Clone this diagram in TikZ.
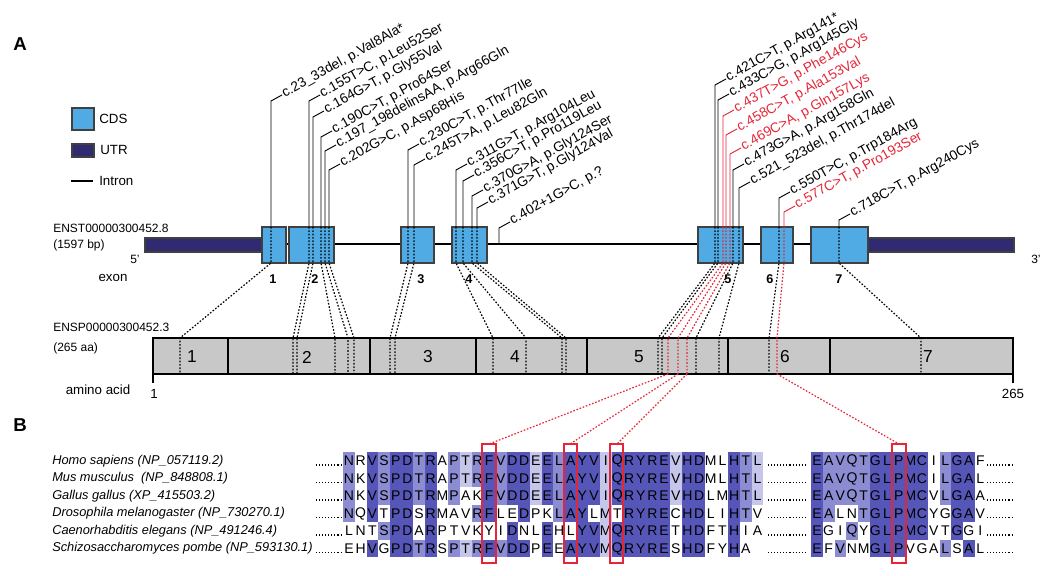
\documentclass[tikz,border=0pt]{standalone}
\usepackage{fontspec}
\setmainfont{Liberation Sans}
\usetikzlibrary{calc,positioning}

\definecolor{cdsblue}{RGB}{80,170,228}
\definecolor{utrnavy}{RGB}{48,42,112}
\definecolor{mutred}{RGB}{228,38,56}
\definecolor{protgray}{RGB}{200,200,200}
\definecolor{lvl1}{RGB}{198,198,234}
\definecolor{lvl2}{RGB}{140,140,210}
\definecolor{lvl3}{RGB}{86,86,184}

\tikzset{
  exonbox/.style={draw=black!75,fill=cdsblue,line width=0.8pt},
  utrbar/.style={draw=black!75,fill=utrnavy,line width=0.8pt},
  intron/.style={line width=1.6pt},
  leader/.style={line width=0.7pt},
  mapline/.style={line width=0.9pt,dash pattern=on 1.2pt off 1.3pt},
  mutlabel/.style={anchor=west,rotate=29,inner sep=0.6pt,font=\fontsize{10.3}{12}\selectfont},
  sidelabel/.style={anchor=west,inner sep=0pt,font=\fontsize{9}{11}\selectfont},
  plainlabel/.style={inner sep=0pt,font=\fontsize{10}{12}\selectfont},
  exonnum/.style={inner sep=0pt,font=\fontsize{9.5}{11}\selectfont\bfseries},
  domnum/.style={inner sep=0pt,font=\fontsize{13}{15}\selectfont},
  resid/.style={inner sep=0pt,font=\fontsize{10.5}{12}\selectfont},
  species/.style={anchor=west,inner sep=0pt,font=\fontsize{9.6}{12}\selectfont\itshape},
  seqdots/.style={line width=0.8pt,dash pattern=on 0.8pt off 1.5pt},
  redbox/.style={draw=mutred,line width=1.1pt},
  panel/.style={inner sep=0pt,font=\fontsize{14}{16}\selectfont\bfseries}
}

% one row of one alignment block: x of first column, y, name, residue/level list
\newcommand{\msarow}[4]{%
  \foreach \res/\lvl [count=\k from 0] in {#4}{
    \ifnum\lvl>0
      \fill[lvl\lvl] ({#1+11.67*\k-5.84},{#2-8.8}) rectangle ++(11.68,17.6);
    \fi
    \node[resid] (#3-\k) at ({#1+11.67*\k},#2) {\res};
  }}

\begin{document}
\begin{tikzpicture}[x=0.75pt,y=-0.75pt]
  \useasboundingbox (0,0) rectangle (1050,575);

  % Panel letters
  \node[panel] (panelA) at (20,44) {A};
  \node[panel] (panelB) at (20,425) {B};

  % Legend
  \draw[exonbox] (72,108) rectangle (94,130);
  \node[sidelabel,font=\fontsize{10}{12}\selectfont] (lgcds) at (99,119) {CDS};
  \draw[utrbar] (72,144) rectangle (94,157);
  \node[sidelabel,font=\fontsize{10}{12}\selectfont] (lgutr) at (100,150) {UTR};
  \draw[intron] (71,181) -- (93,181);
  \node[sidelabel,font=\fontsize{10}{12}\selectfont] (lgintron) at (99,181) {Intron};

  % Transcript
  \node[sidelabel] (enst) at (53,228) {ENST00000300452.8};
  \node[sidelabel] (bp) at (53,245) {(1597 bp)};
  \node[sidelabel] (five) at (130,259) {5'};
  \node[sidelabel] (three) at (1031,259) {3'};
  \node[plainlabel] (exonlab) at (113,278) {exon};
  \draw[intron] (262,244) -- (811,244);
  \draw[utrbar] (145,238) rectangle (262,252);
  \draw[utrbar] (868,238) rectangle (1014,252);
  \foreach \xa/\xb in {262/286, 289/334, 401/434, 452/487, 698/743, 761/793, 811/868}
    \draw[exonbox] (\xa,227) rectangle (\xb,263);
  \foreach \x/\n in {273/1, 315/2, 421/3, 469/4, 728/5, 770/6, 839/7}
    \node[exonnum] (exn\n) at (\x,279) {\n};

  % Protein
  \node[sidelabel] (ensp) at (53,327) {ENSP00000300452.3};
  \node[sidelabel] (aalen) at (53,348) {(265 aa)};
  \node[plainlabel] (aalab) at (98,390) {amino acid};
  \draw[fill=protgray,line width=0.8pt] (153,338) rectangle (1013,374);
  \draw[line width=1.6pt] (153,338) -- (153,383);
  \draw[line width=0.8pt] (1013,374) -- (1013,383);
  \foreach \x in {228,370,476,587,728,830}
    \draw[line width=0.8pt] (\x,338) -- (\x,374);
  \foreach \x/\n in {192/1,307/2,428/3,515/4,639/5,785/6,928/7}
    \node[domnum] (dom\n) at (\x,357) {\n};
  \node[plainlabel] (aafirst) at (154,394) {1};
  \node[plainlabel] (aalast) at (1013,394) {265};

  % Variants: exon x / leader top / residue x / colour / label
  \foreach \gx/\gy/\px/\mc/\txt [count=\i] in {
    271/101/180/black/{c.23\_33del, p.Val8Ala*},
    309/101/293/black/{c.155T>C, p.Leu52Ser},
    313/117/297/black/{c.164G>T, p.Gly55Val},
    321/137/335/black/{c.190C>T, p.Pro64Ser},
    325/151/348/black/{c.197\_198delinsAA, p.Arg66Gln},
    329/170/354/black/{c.202G>C, p.Asp68His},
    408/150/390/black/{c.230C>T, p.Thr77Ile},
    414/165/395/black/{c.245T>A, p.Leu82Gln},
    456/170/493/black/{c.311G>T, p.Arg104Leu},
    463/181/526/black/{c.356C>T, p.Pro119Leu},
    472/196/562/black/{c.370G>A, p.Gly124Ser},
    477/208/566/black/{c.371G>T, p.Gly124Val},
    715/85/658/black/{c.421C>T, p.Arg141*},
    718/100/662/black/{c.433C>G, p.Arg145Gly},
    723/116/668/mutred/{c.437T>G, p.Phe146Cys},
    726/135/678/mutred/{c.458C>T, p.Ala153Val},
    730/154/687/mutred/{c.469C>A, p.Gln157Lys},
    733/170/696/black/{c.473G>A, p.Arg158Gln},
    739/188/719/black/{c.521\_523del, p.Thr174del},
    779/198/769/black/{c.550T>C, p.Trp184Arg},
    784/212/777/mutred/{c.577C>T, p.Pro193Ser},
    839/220/921/black/{c.718C>T, p.Arg240Cys}}{
    \coordinate (top\i) at (\gx,\gy);
    \coordinate (exT\i) at (\gx,227);
    \coordinate (exB\i) at (\gx,263);
    \coordinate (aaT\i) at (\px,338);
    \coordinate (aaB\i) at (\px,374);
    \draw[leader,color=\mc] (exT\i) -- (top\i) -- ++(11,-6) node[mutlabel] (lab\i) {\txt};
    \draw[mapline,color=\mc] (exT\i) -- (exB\i) -- (aaT\i) -- (aaB\i);
  }

  % Splice variant
  \coordinate (spl) at (499,244);
  \draw[leader] (spl) -- (499,228) -- ++(11,-6) node[mutlabel] (labspl) {c.402+1G>C, p.?};

  % Alignment
  \foreach \y/\name [count=\r] in {461/{Homo sapiens (NP\_057119.2)},
      478.5/{Mus musculus\ \ (NP\_848808.1)},
      496/{Gallus gallus (XP\_415503.2)},
      513.5/{Drosophila melanogaster (NP\_730270.1)},
      531/{Caenorhabditis elegans (NP\_491246.4)},
      548.5/{Schizosaccharomyces pombe (NP\_593130.1)}}{
    \node[species] (sp\r) at (52,\y) {\name};
    \draw[seqdots] (316,\y+4) -- (342,\y+4);
    \draw[seqdots] (768,\y+4) -- (807,\y+4);
    \draw[seqdots] (987,\y+4) -- (1013,\y+4);
  }
  \msarow{349}{461}{hsa}{N/2,R/0,V/3,S/2,P/3,D/3,T/2,R/3,A/0,P/2,T/1,R/2,F/3,V/2,D/3,D/3,E/1,E/3,L/2,A/3,Y/3,V/3,I/1,Q/3,R/3,Y/3,R/3,E/3,V/1,H/3,D/3,M/0,L/0,H/3,T/2,L/1}
  \msarow{817}{461}{hsb}{E/3,A/2,V/2,Q/2,T/2,G/3,L/3,P/3,M/3,C/3,I/0,L/2,G/3,A/3,F/0}
  \msarow{349}{478.5}{mma}{N/2,K/0,V/3,S/2,P/3,D/3,T/2,R/3,A/0,P/2,T/1,R/2,F/3,V/2,D/3,D/3,E/1,E/3,L/2,A/3,Y/3,V/3,I/1,Q/3,R/3,Y/3,R/3,E/3,V/1,H/3,D/3,M/0,L/0,H/3,T/2,L/1}
  \msarow{817}{478.5}{mmb}{E/3,A/2,V/2,Q/2,T/2,G/3,L/3,P/3,M/3,C/3,I/0,L/2,G/3,A/3,L/0}
  \msarow{349}{496}{gga}{N/2,K/0,V/3,S/2,P/3,D/3,T/2,R/3,M/0,P/2,A/0,K/0,F/3,V/2,D/3,D/3,E/1,E/3,L/2,A/3,Y/3,V/3,I/1,Q/3,R/3,Y/3,R/3,E/3,V/1,H/3,D/3,L/0,M/0,H/3,T/2,L/1}
  \msarow{817}{496}{ggb}{E/3,A/2,V/2,Q/2,T/2,G/3,L/3,P/3,M/3,C/3,V/0,L/2,G/3,A/3,A/0}
  \msarow{349}{513.5}{dma}{N/2,Q/0,V/3,T/0,P/3,D/3,S/0,R/3,M/0,A/0,V/0,R/2,F/3,L/0,E/0,D/3,P/0,K/0,L/2,A/3,Y/3,L/0,M/1,T/0,R/3,Y/3,R/3,E/3,C/0,H/3,D/3,L/0,I/0,H/3,T/2,V/0}
  \msarow{817}{513.5}{dmb}{E/3,A/2,L/0,N/0,T/2,G/3,L/3,P/3,M/3,C/3,Y/0,G/0,G/3,A/3,V/0}
  \msarow{349}{531}{cea}{L/0,N/0,T/0,S/2,P/3,D/3,A/0,R/3,P/0,T/0,V/0,K/0,Y/0,I/0,D/3,N/0,L/0,E/3,H/0,L/0,Y/3,V/3,M/1,Q/3,R/3,Y/3,R/3,E/3,T/0,H/3,D/3,F/0,T/0,H/3,I/0,A/0}
  \msarow{817}{531}{ceb}{E/3,G/0,I/0,Q/2,Y/0,G/3,L/3,P/3,M/3,C/3,V/0,T/0,G/3,G/0,I/0}
  \msarow{349}{548.5}{spa}{E/0,H/0,V/3,G/0,P/3,D/3,T/2,R/3,S/0,P/2,T/1,R/2,F/3,V/2,D/3,D/3,P/0,E/3,E/0,A/3,Y/3,V/3,M/1,Q/3,R/3,Y/3,R/3,E/3,S/0,H/3,D/3,F/0,Y/0,H/3,A/0}
  \msarow{817}{548.5}{spb}{E/3,F/0,V/2,N/0,M/0,G/3,L/3,P/3,V/0,G/0,A/0,L/2,S/0,A/3,L/0}

  % Highlighted columns
  \draw[redbox] (482,444) rectangle (496,563);
  \draw[redbox] (564,444) rectangle (577,563);
  \draw[redbox] (610,444) rectangle (623,563);
  \draw[redbox] (892,444) rectangle (906,563);
  \coordinate (boxF) at (489,444);
  \coordinate (boxA) at (570,444);
  \coordinate (boxQ) at (617,444);
  \coordinate (boxP) at (899,444);
  \draw[mapline,mutred] (aaB15) -- (boxF);
  \draw[mapline,mutred] (aaB16) -- (boxA);
  \draw[mapline,mutred] (aaB17) -- (boxQ);
  \draw[mapline,mutred] (aaB21) -- (boxP);
\end{tikzpicture}
\end{document}
